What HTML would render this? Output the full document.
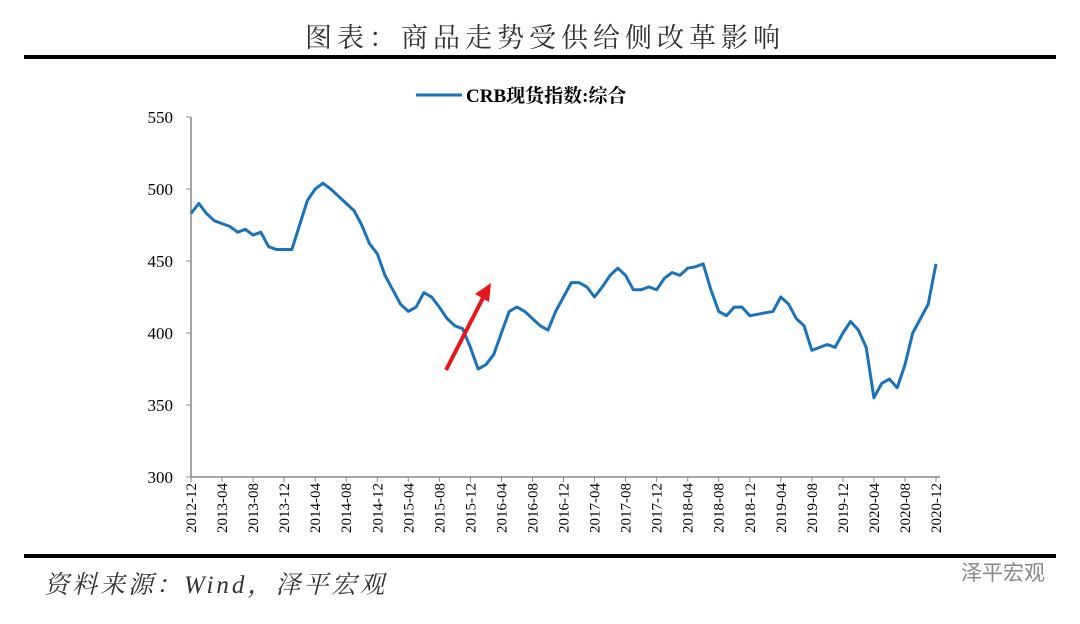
<!DOCTYPE html>
<html><head><meta charset="utf-8"><style>
body{margin:0;background:#fff;width:1080px;height:619px;overflow:hidden;font-family:"Liberation Serif","Noto Serif CJK SC",serif}
</style></head><body>
<svg width="1080" height="619" xmlns="http://www.w3.org/2000/svg">
<text x="545" y="47" text-anchor="middle" font-size="27" fill="#333" font-family="Liberation Serif, Noto Serif CJK SC, serif" letter-spacing="5">图表：商品走势受供给侧改革影响</text>
<rect x="24" y="55" width="1032" height="4" fill="#000"/>
<g>
<line x1="416" y1="95" x2="462" y2="95" stroke="#1a72bb" stroke-width="3"/>
<text x="466" y="102" font-size="19" font-weight="bold" fill="#000" font-family="Liberation Serif, Noto Serif CJK SC, serif">CRB现货指数:综合</text>
</g>
<g id="axes"></g>
<g id="plot"></g>
<rect x="24" y="554" width="1032" height="4" fill="#000"/>
<text x="44" y="593" font-size="25" font-style="italic" fill="#333" letter-spacing="3" font-family="Liberation Serif, Noto Serif CJK SC, serif">资料来源：Wind，泽平宏观</text>
<text x="1045" y="580" text-anchor="end" font-size="21" fill="#888" font-family="Liberation Sans, Noto Sans CJK SC, sans-serif">泽平宏观</text>
<line x1="446" y1="370" x2="484" y2="296" stroke="#e8161b" stroke-width="4"/>
<polygon points="491,283 475,294 489,302" fill="#e8161b"/>
</svg>
<script>
const startYear=2012,startMonth=12;
const values=[483,490,483,478,476,474,470,472,468,470,460,458,458,458,475,492,500,504,500,495,490,485,475,462,455,440,430,420,415,418,428,425,418,410,405,403,390,375,378,385,400,415,418,415,410,405,402,415,425,435,435,432,425,432,440,445,440,430,430,432,430,438,442,440,445,446,448,430,415,412,418,418,412,413,414,415,425,420,410,405,388,390,392,390,400,408,402,390,355,365,368,362,378,400,410,420,448];
const yTicks=[300,350,400,450,500,550];
const x0=191,x1=936,yTop=117,yBot=477,vMin=300,vMax=550;
const N=values.length;
const xs=i=>x0+(x1-x0)*i/(N-1);
const ys=v=>yBot-(v-vMin)/(vMax-vMin)*(yBot-yTop);
const NS="http://www.w3.org/2000/svg";
const ax=document.getElementById('axes'),pl=document.getElementById('plot');
function mk(tag,at,par){const e=document.createElementNS(NS,tag);for(const k in at)e.setAttribute(k,at[k]);par.appendChild(e);return e;}
let e=mk('line',{x1:x0,y1:yTop,x2:x0,y2:yBot,stroke:'#888','stroke-width':1.5},ax);


e=mk('line',{x1:x0,y1:yBot,x2:x1+4,y2:yBot,stroke:'#888','stroke-width':1.5},ax);


yTicks.forEach(t=>{
 mk('line',{x1:x0-5,y1:ys(t),x2:x0,y2:ys(t),stroke:'#888'},ax);
 const tx=mk('text',{x:x0-18,y:ys(t)+6,'text-anchor':'end','font-size':17,fill:'#000'},ax);
 tx.textContent=t;
 
 
});
for(let i=0;i<N;i+=4){
 const m=(startMonth-1+i)%12+1,y=startYear+Math.floor((startMonth-1+i)/12);
 const x=xs(i);
 mk('line',{x1:x,y1:yBot,x2:x,y2:yBot+5,stroke:'#888'},ax);
 const tx=mk('text',{x:0,y:0,'text-anchor':'end','font-size':15,fill:'#000',transform:`translate(${x+5},${yBot+6}) rotate(-90)`},ax);
 tx.textContent=y+'-'+String(m).padStart(2,'0');
 
 
}
const p=mk('path',{d:values.map((v,i)=>(i?'L':'M')+xs(i).toFixed(1)+','+ys(v).toFixed(1)).join(''),fill:'none',stroke:'#1a72bb','stroke-width':3,'stroke-linejoin':'round'},pl);


</script>
</body></html>
